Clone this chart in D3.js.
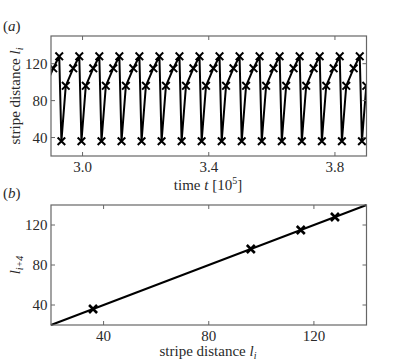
<!DOCTYPE html>
<html>
<head>
<meta charset="utf-8">
<script src="https://cdn.jsdelivr.net/npm/d3@7"></script>
<style>
  body { margin: 0; background: #fff; }
  svg text { font-family: "Liberation Serif", "DejaVu Serif", serif; fill: #2a2a2a; }
</style>
</head>
<body>
<svg width="407" height="362"></svg>
<script>
// (a) time series of stripe distances
const times = [
  2.8695, 2.8833, 2.9069, 2.9261,
  2.9330, 2.9468, 2.9704, 2.9896,
  2.9965, 3.0103, 3.0339, 3.0531,
  3.0600, 3.0738, 3.0974, 3.1166,
  3.1235, 3.1373, 3.1609, 3.1801,
  3.1870, 3.2008, 3.2244, 3.2436,
  3.2505, 3.2643, 3.2879, 3.3071,
  3.3140, 3.3278, 3.3514, 3.3706,
  3.3775, 3.3913, 3.4149, 3.4341,
  3.4410, 3.4548, 3.4784, 3.4976,
  3.5045, 3.5183, 3.5419, 3.5611,
  3.5680, 3.5818, 3.6054, 3.6246,
  3.6315, 3.6453, 3.6689, 3.6881,
  3.6950, 3.7088, 3.7324, 3.7516,
  3.7585, 3.7723, 3.7959, 3.8151,
  3.8220, 3.8358, 3.8594, 3.8786,
  3.8855, 3.8993, 3.9229, 3.9421
];
const lengths = [
  36, 96, 115, 128, 36, 96, 115, 128, 36, 96, 115, 128, 36, 96, 115, 128,
  36, 96, 115, 128, 36, 96, 115, 128, 36, 96, 115, 128, 36, 96, 115, 128,
  36, 96, 115, 128, 36, 96, 115, 128, 36, 96, 115, 128, 36, 96, 115, 128,
  36, 96, 115, 128, 36, 96, 115, 128, 36, 96, 115, 128, 36, 96, 115, 128,
  36, 96, 115, 128
];
const topXTicks = [3.0, 3.4, 3.8];
const topYTicks = [40, 80, 120];

// (b) return map l_i -> l_{i+4}
const mapLi = [36, 96, 115, 128];
const mapLi4 = [36, 96, 115, 128];
const diagLine = [20, 140];
const botTicks = [40, 80, 120];

const svg = d3.select("svg");
const left = 51, right = 366.5;

function frame(g, x, y, xt, yt, fmt) {
  const [x0, x1] = x.range(), [y0, y1] = y.range();
  const tl = 4;
  xt.forEach(function(t) {
    g.append("line").attr("x1", x(t)).attr("x2", x(t)).attr("y1", y0).attr("y2", y0 - tl);
    g.append("line").attr("x1", x(t)).attr("x2", x(t)).attr("y1", y1).attr("y2", y1 + tl);
    g.append("text").attr("x", x(t)).attr("y", y0 + 16).attr("text-anchor", "middle")
      .style("font-size", "15px").text(fmt(t));
  });
  yt.forEach(function(t) {
    g.append("line").attr("x1", x0).attr("x2", x0 + tl).attr("y1", y(t)).attr("y2", y(t));
    g.append("line").attr("x1", x1).attr("x2", x1 - tl).attr("y1", y(t)).attr("y2", y(t));
    g.append("text").attr("x", x0 - 3.5).attr("y", y(t) + 5).attr("text-anchor", "end")
      .style("font-size", "15px").text(t);
  });
  g.selectAll("line").attr("stroke", "#666").attr("stroke-width", 1);
  g.append("rect").attr("x", x0).attr("y", y1).attr("width", x1 - x0).attr("height", y0 - y1)
    .attr("fill", "none").attr("stroke", "#666").attr("stroke-width", 1.2);
}

function crosses(g, pts, r, w) {
  g.selectAll(null).data(pts).enter().append("path")
    .attr("d", function(d) {
      return "M" + (d[0] - r) + "," + (d[1] - r) + "L" + (d[0] + r) + "," + (d[1] + r) +
        "M" + (d[0] - r) + "," + (d[1] + r) + "L" + (d[0] + r) + "," + (d[1] - r);
    })
    .attr("stroke", "#000").attr("stroke-width", w).attr("fill", "none");
}

// ---- panel (a)
const xa = d3.scaleLinear().domain([2.9, 3.9]).range([left, right]);
const ya = d3.scaleLinear().domain([20, 150]).range([156, 36]);

svg.append("clipPath").attr("id", "clipA").append("rect")
  .attr("x", left).attr("y", 36).attr("width", right - left).attr("height", 120);

const ga = svg.append("g");
const ptsA = times.map(function(t, i) { return [xa(t), ya(lengths[i])]; });
const plotA = ga.append("g").attr("clip-path", "url(#clipA)");
plotA.append("path").datum(ptsA)
  .attr("d", d3.line())
  .attr("fill", "none").attr("stroke", "#000").attr("stroke-width", 2).attr("stroke-linejoin", "round");
crosses(plotA, ptsA, 3.8, 2);
frame(ga.append("g"), xa, ya, topXTicks, topYTicks, d3.format(".1f"));

svg.append("text").attr("x", 3).attr("y", 31).style("font-size", "15px")
  .html("(<tspan style='font-style:italic'>a</tspan>)");
const ylabA = svg.append("text").attr("transform", "translate(20,96) rotate(-90)")
  .attr("text-anchor", "middle").style("font-size", "15px");
ylabA.append("tspan").text("stripe distance ");
ylabA.append("tspan").style("font-style", "italic").text("l");
ylabA.append("tspan").style("font-style", "italic").style("font-size", "10px").attr("dy", 3).text("i");

const xlabA = svg.append("text").attr("x", 208).attr("y", 190).attr("text-anchor", "middle")
  .style("font-size", "15px");
xlabA.append("tspan").text("time ");
xlabA.append("tspan").style("font-style", "italic").text("t");
xlabA.append("tspan").text(" [10");
xlabA.append("tspan").style("font-size", "10px").attr("dy", -6).text("5");
xlabA.append("tspan").attr("dy", 6).text("]");

// ---- panel (b)
const xb = d3.scaleLinear().domain([20, 140]).range([left, right]);
const yb = d3.scaleLinear().domain([20, 140]).range([325, 205]);

const gb = svg.append("g");
gb.append("line")
  .attr("x1", xb(diagLine[0])).attr("y1", yb(diagLine[0]))
  .attr("x2", xb(diagLine[1])).attr("y2", yb(diagLine[1]))
  .attr("stroke", "#000").attr("stroke-width", 2);
const ptsB = mapLi.map(function(v, i) { return [xb(v), yb(mapLi4[i])]; });
crosses(gb, ptsB, 4, 2.6);
frame(gb.append("g"), xb, yb, botTicks, botTicks, d3.format("d"));

svg.append("text").attr("x", 3).attr("y", 198).style("font-size", "15px")
  .html("(<tspan style='font-style:italic'>b</tspan>)");
const ylabB = svg.append("text").attr("transform", "translate(20,265) rotate(-90)")
  .attr("text-anchor", "middle").style("font-size", "15px");
ylabB.append("tspan").style("font-style", "italic").text("l");
ylabB.append("tspan").style("font-style", "italic").style("font-size", "10px").attr("dy", 3).text("i+4");

const xlabB = svg.append("text").attr("x", 208).attr("y", 356).attr("text-anchor", "middle")
  .style("font-size", "15px");
xlabB.append("tspan").text("stripe distance ");
xlabB.append("tspan").style("font-style", "italic").text("l");
xlabB.append("tspan").style("font-style", "italic").style("font-size", "10px").attr("dy", 3).text("i");
</script>
</body>
</html>
